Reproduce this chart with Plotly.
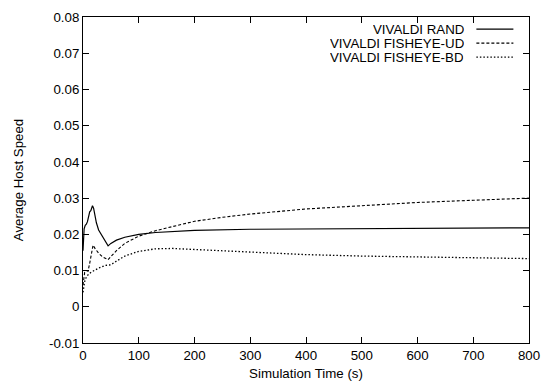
import plotly.graph_objects as go

# Data
t_rand = [0, 2, 4, 6, 8, 10, 12, 14, 17, 19, 21, 24, 28, 33, 38, 45, 50, 60, 75, 100, 130, 160, 200, 300, 400, 500, 600, 700, 800]
rand = [0.0155, 0.0215, 0.0225, 0.0228, 0.0235, 0.0255, 0.0262, 0.0265, 0.0279, 0.0272, 0.0255, 0.0232, 0.0212, 0.0198, 0.0185, 0.0168, 0.0175, 0.0184, 0.0192, 0.0200, 0.0205, 0.0208, 0.0211, 0.0214, 0.0215, 0.0216, 0.0217, 0.0218, 0.0218]

t_ud = [0, 3, 6, 9, 12, 15, 18, 22, 28, 35, 45, 52, 60, 75, 100, 130, 160, 200, 250, 300, 400, 500, 600, 700, 800]
ud = [0.006, 0.0095, 0.0100, 0.0098, 0.0120, 0.0150, 0.0170, 0.0160, 0.0148, 0.0138, 0.0130, 0.0142, 0.0155, 0.0175, 0.0195, 0.0210, 0.0222, 0.0236, 0.0247, 0.0256, 0.0270, 0.0280, 0.0288, 0.0294, 0.0300]

t_bd = [0, 3, 6, 10, 15, 22, 30, 40, 50, 60, 75, 100, 130, 160, 200, 250, 300, 400, 500, 600, 700, 800]
bd = [0.0040, 0.0070, 0.0082, 0.0090, 0.0096, 0.0102, 0.0108, 0.0114, 0.0116, 0.0126, 0.0140, 0.0153, 0.0160, 0.0161, 0.0158, 0.0154, 0.0150, 0.0144, 0.0140, 0.0137, 0.0135, 0.0133]

names = ["VIVALDI RAND", "VIVALDI FISHEYE-UD", "VIVALDI FISHEYE-BD"]
dashes = ["solid", "3px,2px", "1.5px,2px"]
widths = [1.2, 1.1, 1.3]

y_ticks = [-0.01, 0, 0.01, 0.02, 0.03, 0.04, 0.05, 0.06, 0.07, 0.08]
y_labels = ["-0.01", "0", "0.01", "0.02", "0.03", "0.04", "0.05", "0.06", "0.07", "0.08"]
x_ticks = [0, 100, 200, 300, 400, 500, 600, 700, 800]

FONT = "Liberation Sans, Arial, sans-serif"
FS = 13.3

fig = go.Figure()
for t, v, n, d, w in zip([t_rand, t_ud, t_bd], [rand, ud, bd], names, dashes, widths):
    fig.add_trace(go.Scatter(x=t, y=v, mode="lines", name=n,
                             line=dict(color="black", width=w, dash=d),
                             showlegend=False))

# gnuplot-style legend: text right-aligned, sample line on its right
for i, (n, d, w) in enumerate(zip(names, dashes, widths)):
    yy = 0.963 - i * 0.043
    fig.add_annotation(x=0.857, y=yy, xref="paper", yref="paper", text=n,
                       showarrow=False, xanchor="right", yanchor="middle",
                       xshift=0, borderpad=0, height=13,
                       font=dict(family=FONT, size=FS, color="black"))
    fig.add_shape(type="line", xref="paper", yref="paper",
                  x0=0.882, x1=0.965, y0=yy, y1=yy,
                  line=dict(color="black", width=w, dash=d))

fig.update_layout(
    width=543, height=385,
    margin=dict(l=83, r=14, t=17, b=42),
    paper_bgcolor="white", plot_bgcolor="white",
    font=dict(family=FONT, size=FS, color="black"),
)
fig.update_xaxes(range=[0, 800], tickvals=x_ticks, ticks="inside", ticklen=6,
                 tickcolor="black", showline=True, linecolor="black", linewidth=1,
                 mirror="ticks", showgrid=False, zeroline=False, automargin=False,
                 title=dict(text="Simulation Time (s)", standoff=6,
                            font=dict(family=FONT, size=FS)))
fig.update_yaxes(range=[-0.01, 0.08], tickvals=y_ticks, ticktext=y_labels,
                 ticks="inside", ticklen=6, tickcolor="black", showline=True,
                 linecolor="black", linewidth=1, mirror="ticks", showgrid=False,
                 zeroline=False, automargin=False,
                 title=dict(text="Average Host Speed", standoff=22,
                            font=dict(family=FONT, size=FS)))

fig.write_html("out.html")
